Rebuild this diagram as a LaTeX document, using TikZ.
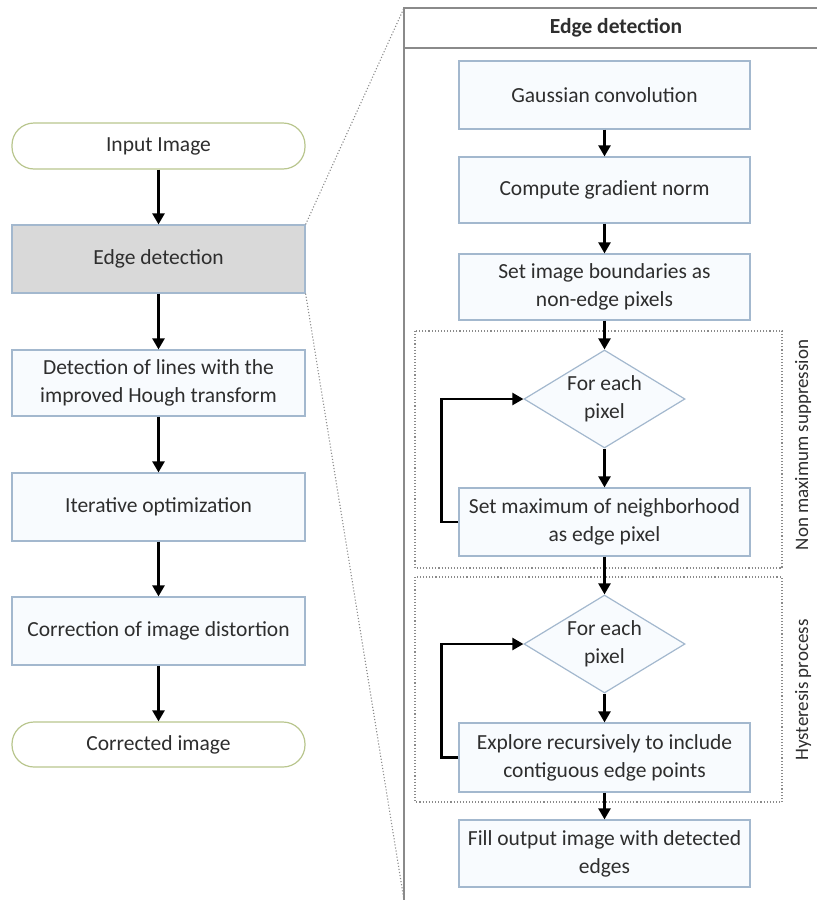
\documentclass[tikz,border=0pt]{standalone}
\usepackage{fontspec}
\setmainfont{Carlito}
\usetikzlibrary{arrows.meta,shapes.geometric}
\definecolor{boxline}{HTML}{A3B8CE}
\definecolor{boxfill}{HTML}{F8FBFE}
\definecolor{termline}{HTML}{B9C68E}
\definecolor{grayfill}{HTML}{D9D9D9}
\definecolor{txt}{HTML}{2E2E2E}
\definecolor{panelline}{HTML}{8A8A8A}
\tikzset{
  every node/.style={font=\fontsize{21.5}{28}\selectfont, text=txt},
  procbox/.style={draw=boxline, fill=boxfill, line width=1.2pt, rectangle, align=center, inner sep=2pt},
  leftbox/.style={procbox, minimum width=293pt},
  rightbox/.style={procbox, minimum width=291pt},
  termbox/.style={draw=termline, fill=white, line width=1.2pt, rounded corners=22pt, minimum width=293pt, minimum height=46pt, align=center},
  decbox/.style={draw=boxline, fill=boxfill, line width=1.2pt, diamond, minimum width=161pt, minimum height=98pt, inner sep=0pt},
  arr/.style={-{Triangle[length=11pt,width=12pt]}, line width=2.4pt, black},
  zoomline/.style={dotted, line width=1.1pt, panelline},
  grp/.style={dotted, line width=1.1pt, panelline},
  panel/.style={line width=1.6pt, panelline},
  sidelabel/.style={rotate=90, font=\fontsize{19}{22}\selectfont},
}
\begin{document}
\begin{tikzpicture}[x=1pt,y=-1pt]
\useasboundingbox (0,0) rectangle (817,900);
% panel frame
\coordinate (ptop) at (404,8);
\coordinate (pbot) at (404,900);
\coordinate (pright) at (817,8);
\coordinate (hl) at (404,48);
\coordinate (hr) at (817,48);
\draw[panel] (pbot) -- (ptop) -- (pright);
\draw[panel, line width=1.2pt] (hl) -- (hr);
\node[font=\bfseries\fontsize{21.5}{28}\selectfont] (head) at (616,28) {Edge detection};
% group boxes
\draw[grp] (415,331) rectangle (782,568);
\draw[grp] (415,577) rectangle (782,802);
\node[sidelabel] (nms) at (803,445) {Non maximum suppression};
\node[sidelabel] (hyst) at (803,690) {Hysteresis process};
% left column
\node[termbox] (in) at (158.5,146) {Input Image};
\node[leftbox, fill=grayfill, minimum height=68pt] (ed) at (158.5,259) {Edge detection};
\node[leftbox, minimum height=66pt] (dl) at (158.5,383) {Detection of lines with the\\improved Hough transform};
\node[leftbox, minimum height=68pt] (io) at (158.5,507) {Iterative optimization};
\node[leftbox, minimum height=68pt] (co) at (158.5,631) {Correction of image distortion};
\node[termbox, minimum height=45pt] (ci) at (158.5,744.5) {Corrected image};
\draw[arr] (in) -- (ed);
\draw[arr] (ed) -- (dl);
\draw[arr] (dl) -- (io);
\draw[arr] (io) -- (co);
\draw[arr] (co) -- (ci);
% zoom lines
\draw[zoomline] (ed.north east) -- (ptop);
\draw[zoomline] (ed.south east) -- (pbot);
% right column
\node[rightbox, minimum height=68pt] (g) at (604.5,95) {Gaussian convolution};
\node[rightbox, minimum height=66pt] (cg) at (604.5,190) {Compute gradient norm};
\node[rightbox, minimum height=66pt] (sb) at (604.5,287) {Set image boundaries as\\non-edge pixels};
\node[decbox] (d1) at (604.5,399) {};
\node (d1t) at (d1) [align=center] {For each\\pixel};
\node[rightbox, minimum height=68pt] (sm) at (604.5,522) {Set maximum of neighborhood\\as edge pixel};
\node[decbox] (d2) at (604.5,644) {};
\node (d2t) at (d2) [align=center] {For each\\pixel};
\node[rightbox, minimum height=69pt] (ex) at (604.5,757.5) {Explore recursively to include\\contiguous edge points};
\node[rightbox, minimum height=67pt] (fo) at (604.5,853.5) {Fill output image with detected\\edges};
\draw[arr] (g) -- (cg);
\draw[arr] (cg) -- (sb);
\draw[arr] (sb) -- (d1);
\draw[arr] (d1) -- (sm);
\draw[arr] (sm) -- (d2);
\draw[arr] (d2) -- (ex);
\draw[arr] (ex) -- (fo);
\draw[arr] (sm.west) -- ++(-17,0) |- (d1.west);
\draw[arr] (ex.west) -- ++(-17,0) |- (d2.west);
\end{tikzpicture}
\end{document}
